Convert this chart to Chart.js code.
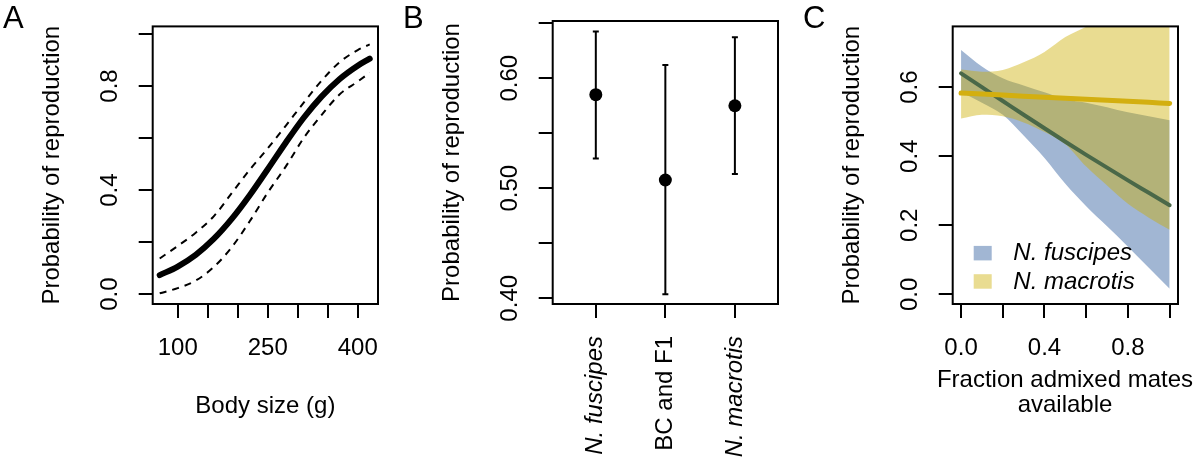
<!DOCTYPE html>
<html>
<head>
<meta charset="utf-8">
<script src="https://cdn.jsdelivr.net/npm/chart.js@4.4.1/dist/chart.umd.min.js"></script>
<style>
  body { margin: 0; background: #fff; width: 1200px; height: 476px; position: relative; overflow: hidden;
         font-family: 'Liberation Sans', Arial, sans-serif; }
  .panel { position: absolute; top: 0; width: 400px; height: 476px; }
  .letter { position: absolute; top: 2px; font-size: 31px; line-height: 31px; color: #000; }
  .xtitle { position: absolute; left: 865px; top: 366px; width: 400px; text-align: center;
            font-size: 24px; line-height: 25px; color: #000; }
</style>
</head>
<body>
<div class="panel" style="left:0px"><canvas id="chartA"></canvas></div>
<div class="panel" style="left:400px"><canvas id="chartB"></canvas></div>
<div class="panel" style="left:800px"><canvas id="chartC"></canvas></div>
<div class="letter" style="left:3px">A</div>
<div class="letter" style="left:403px">B</div>
<div class="letter" style="left:803px">C</div>
<div class="xtitle" id="titleC"></div>
<script>
// ---- panel A: body size
const bodySize = [70, 100, 130, 160, 190, 220, 250, 280, 310, 340, 370, 400, 420];
const probFit = [0.073, 0.106, 0.151, 0.212, 0.289, 0.380, 0.480, 0.582, 0.678, 0.760, 0.827, 0.878, 0.905];
const probUpper = [0.137, 0.185, 0.236, 0.299, 0.388, 0.478, 0.560, 0.647, 0.736, 0.821, 0.892, 0.938, 0.960];
const probLower = [0.003, 0.023, 0.052, 0.104, 0.180, 0.280, 0.390, 0.490, 0.600, 0.689, 0.768, 0.817, 0.851];
const xTicksA = [100, 150, 200, 250, 300, 350, 400];
const xLabelsA = ['100', '', '', '250', '', '', '400'];
const yTicksA = [0, 0.2, 0.4, 0.6, 0.8, 1.0];
const yLabelsA = ['0.0', '', '0.4', '', '0.8', ''];

// ---- panel B: groups
const groups = ['N. fuscipes', 'BC and F1', 'N. macrotis'];
const groupPos = [1, 2, 3];
const groupMean = [0.585, 0.5075, 0.575];
const groupLower = [0.527, 0.4036, 0.513];
const groupUpper = [0.6424, 0.6121, 0.6373];
const yTicksB = [0.40, 0.45, 0.50, 0.55, 0.60, 0.65];
const yLabelsB = ['0.40', '', '0.50', '', '0.60', ''];

// ---- panel C: admixed mates
const admixed = [0, 0.1, 0.2, 0.3, 0.4, 0.5, 0.6, 0.7, 0.8, 0.9, 1.0];
const fusFit = [0.640, 0.600, 0.560, 0.520, 0.481, 0.442, 0.404, 0.367, 0.330, 0.294, 0.258];
const fusUpper = [0.708, 0.660, 0.626, 0.605, 0.585, 0.565, 0.555, 0.542, 0.527, 0.516, 0.504];
const fusLower = [0.585, 0.555, 0.520, 0.460, 0.395, 0.320, 0.255, 0.197, 0.138, 0.077, 0.016];
const macFit = [0.583, 0.580, 0.577, 0.574, 0.571, 0.568, 0.565, 0.562, 0.559, 0.556, 0.553];
const macUpper = [0.651, 0.645, 0.650, 0.672, 0.702, 0.745, 0.775, 0.810, 0.840, 0.865, 0.885];
const macLower = [0.509, 0.520, 0.516, 0.498, 0.470, 0.435, 0.370, 0.315, 0.262, 0.222, 0.187];
const xTicksC = [0, 0.2, 0.4, 0.6, 0.8, 1.0];
const xLabelsC = ['0.0', '', '0.4', '', '0.8', ''];
const yTicksC = [0, 0.2, 0.4, 0.6];
const yLabelsC = ['0.0', '0.2', '0.4', '0.6'];
const legendLabels = ['N. fuscipes', 'N. macrotis'];
const xTitleC = ['Fraction admixed mates', 'available'];

Chart.defaults.font.family = "'Liberation Sans', Arial, sans-serif";
Chart.defaults.color = '#000';

const BLUE = '#A1B6D3';
const GOLD_BAND = 'rgba(205,173,0,0.43)';

const framePlugin = {
  id: 'frame',
  afterDraw(chart) {
    const { ctx, chartArea: a } = chart;
    ctx.save();
    ctx.strokeStyle = '#000';
    ctx.lineWidth = 2;
    ctx.strokeRect(a.left, a.top, a.right - a.left, a.bottom - a.top);
    ctx.restore();
  }
};

function pts(xs, ys) {
  return xs.map((x, i) => ({ x: x, y: ys[i] }));
}

function tickGrid() {
  return { drawOnChartArea: false, drawTicks: true, tickLength: 14, color: '#000', lineWidth: 2 };
}

function yAxis(min, max, ticks, labels, pad) {
  return {
    type: 'linear', position: 'left', min: min, max: max,
    afterBuildTicks: s => { s.ticks = ticks.map(v => ({ value: v })); },
    afterFit: s => { s.width = 152.7; },
    grid: tickGrid(),
    border: { display: false },
    ticks: {
      minRotation: 90, maxRotation: 90, crossAlign: 'center', padding: pad,
      font: { size: 24 },
      callback: (v, i) => labels[i]
    },
    title: { display: true, text: 'Probability of reproduction', font: { size: 24 }, padding: { top: 38, bottom: 0 } }
  };
}

function xAxis(min, max, ticks, labels, title, titlePad) {
  return {
    type: 'linear', position: 'bottom', min: min, max: max,
    afterBuildTicks: s => { s.ticks = ticks.map(v => ({ value: v })); },
    afterFit: s => { s.height = 172; },
    grid: tickGrid(),
    border: { display: false },
    ticks: {
      autoSkip: false, maxRotation: 0, padding: 16,
      font: { size: 24 },
      callback: (v, i) => labels[i]
    },
    title: {
      display: !!title, text: title, font: { size: 24 },
      padding: { top: 0, bottom: titlePad }
    }
  };
}

const baseOptions = {
  responsive: true,
  maintainAspectRatio: false,
  animation: false,
  events: [],
  layout: { padding: { left: 0, right: 22, top: 21, bottom: 0 } },
  plugins: { legend: { display: false }, tooltip: { enabled: false } },
  elements: { point: { radius: 0 } }
};

// ---------- A
new Chart(document.getElementById('chartA'), {
  type: 'line',
  data: {
    datasets: [
      { data: pts(bodySize, probFit), borderColor: '#000', borderWidth: 6, borderCapStyle: 'round',
        cubicInterpolationMode: 'monotone', fill: false },
      { data: pts(bodySize, probUpper), borderColor: '#000', borderWidth: 2, borderDash: [7, 6],
        cubicInterpolationMode: 'monotone', fill: false },
      { data: pts(bodySize, probLower), borderColor: '#000', borderWidth: 2, borderDash: [7, 6],
        cubicInterpolationMode: 'monotone', fill: false }
    ]
  },
  options: Object.assign({}, baseOptions, {
    scales: {
      x: xAxis(58.3, 433.8, xTicksA, xLabelsA, 'Body size (g)', 55),
      y: yAxis(-0.038, 1.029, yTicksA, yLabelsA, 12)
    }
  }),
  plugins: [framePlugin]
});

// ---------- B
const errorBars = groupPos.map((x, i) => ({
  type: 'line',
  data: [{ x: x, y: groupLower[i] }, { x: x, y: groupUpper[i] }],
  borderColor: '#000', borderWidth: 2,
  pointStyle: 'line', pointRadius: 3, pointBorderWidth: 2, pointBorderColor: '#000'
}));

const xB = xAxis(0.38, 3.62, groupPos, groups, '', 0);
xB.ticks = {
  autoSkip: false, minRotation: 90, maxRotation: 90, padding: 18,
  font: c => ({ size: 24, style: (groups[c.index] || '').indexOf('N.') === 0 ? 'italic' : 'normal' }),
  callback: (v, i) => groups[i]
};

new Chart(document.getElementById('chartB'), {
  type: 'scatter',
  data: {
    datasets: [
      { type: 'scatter', data: pts(groupPos, groupMean), pointRadius: 6.5, pointBackgroundColor: '#000',
        pointBorderColor: '#000', pointBorderWidth: 0 }
    ].concat(errorBars)
  },
  options: Object.assign({}, baseOptions, {
    scales: {
      x: xB,
      y: yAxis(0.3948, 0.652, yTicksB, yLabelsB, 5.3)
    }
  }),
  plugins: [framePlugin]
});

// ---------- C
const legendPlugin = {
  id: 'insetLegend',
  afterDraw(chart) {
    const { ctx, chartArea: a } = chart;
    const colors = [BLUE, GOLD_BAND];
    ctx.save();
    ctx.font = 'italic 24px "Liberation Sans", Arial, sans-serif';
    ctx.textBaseline = 'alphabetic';
    legendLabels.forEach((label, i) => {
      const base = a.top + 234 + i * 28.3;
      ctx.fillStyle = colors[i];
      ctx.fillRect(a.left + 21, base - 14.5, 18, 14.5);
      ctx.fillStyle = '#000';
      ctx.fillText(label, a.left + 60.6, base);
    });
    ctx.restore();
  }
};

new Chart(document.getElementById('chartC'), {
  type: 'line',
  data: {
    datasets: [
      { label: 'N. macrotis', data: pts(admixed, macFit), borderColor: '#D3AF10', borderWidth: 5,
        borderCapStyle: 'round', cubicInterpolationMode: 'monotone', fill: false },
      { label: 'N. fuscipes', data: pts(admixed, fusFit), borderColor: '#4A6848', borderWidth: 4,
        borderCapStyle: 'round', cubicInterpolationMode: 'monotone', fill: false },
      { data: pts(admixed, macUpper), borderWidth: 0, borderColor: 'rgba(0,0,0,0)', backgroundColor: GOLD_BAND,
        cubicInterpolationMode: 'monotone', fill: '+1' },
      { data: pts(admixed, macLower), borderWidth: 0, borderColor: 'rgba(0,0,0,0)',
        cubicInterpolationMode: 'monotone', fill: false },
      { data: pts(admixed, fusUpper), borderWidth: 0, borderColor: 'rgba(0,0,0,0)', backgroundColor: BLUE,
        cubicInterpolationMode: 'monotone', fill: '+1' },
      { data: pts(admixed, fusLower), borderWidth: 0, borderColor: 'rgba(0,0,0,0)',
        cubicInterpolationMode: 'monotone', fill: false }
    ]
  },
  options: Object.assign({}, baseOptions, {
    scales: {
      x: xAxis(-0.04, 1.04, xTicksC, xLabelsC, '', 0),
      y: yAxis(-0.028, 0.776, yTicksC, yLabelsC, 12)
    }
  }),
  plugins: [framePlugin, legendPlugin]
});

document.getElementById('titleC').innerHTML = xTitleC.join('<br>');
</script>
</body>
</html>
